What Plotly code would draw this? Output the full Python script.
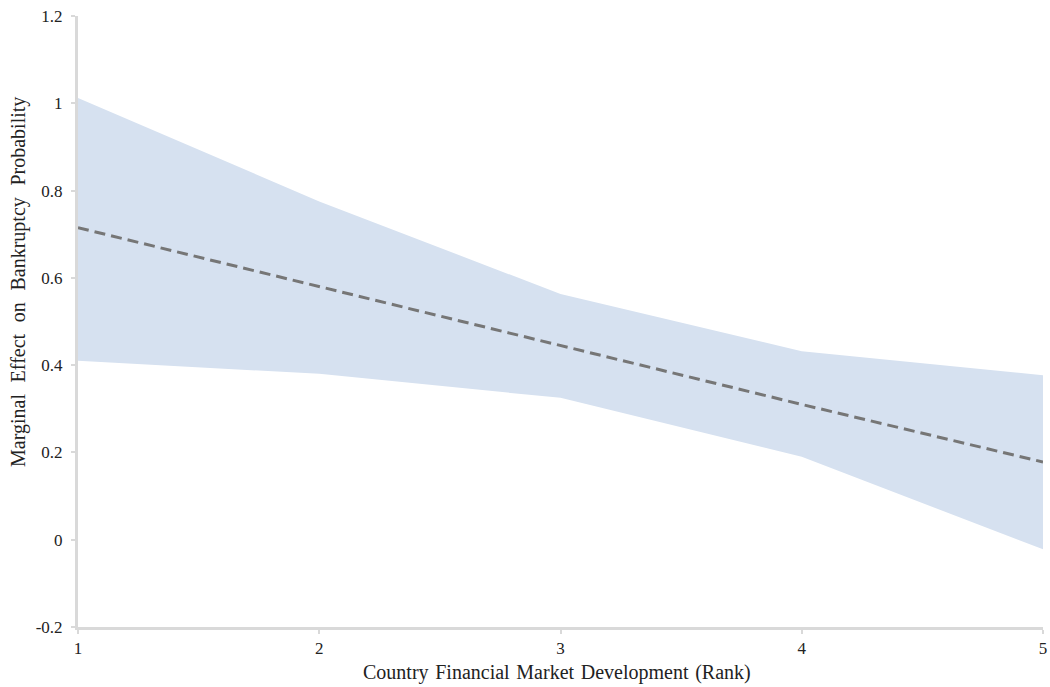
import plotly.graph_objects as go

rank = [1, 2, 3, 4, 5]
effect = [0.715, 0.58, 0.445, 0.31, 0.178]
upper = [1.012, 0.775, 0.563, 0.432, 0.377]
lower = [0.41, 0.38, 0.325, 0.19, -0.022]

y_ticks = [-0.2, 0, 0.2, 0.4, 0.6, 0.8, 1, 1.2]
y_tick_labels = ["-0.2", "0", "0.2", "0.4", "0.6", "0.8", "1", "1.2"]
x_ticks = [1, 2, 3, 4, 5]
x_tick_labels = ["1", "2", "3", "4", "5"]

x_title = "Country Financial Market Development (Rank)"
y_title = "Marginal Effect on Bankruptcy Probability"

font = "Liberation Serif, Times New Roman, serif"

fig = go.Figure()
fig.add_trace(go.Scatter(x=rank, y=lower, mode="lines", line=dict(width=0),
                         showlegend=False, hoverinfo="skip"))
fig.add_trace(go.Scatter(x=rank, y=upper, mode="lines", line=dict(width=0),
                         fill="tonexty", fillcolor="#d6e1f0",
                         showlegend=False, hoverinfo="skip"))
fig.add_trace(go.Scatter(x=rank, y=effect, mode="lines",
                         line=dict(color="#767676", width=3, dash="11px,6px"),
                         showlegend=False))

L, R, T, B = 78, 7, 16, 60
W, H = 1050, 687
fig.update_layout(
    width=W, height=H,
    margin=dict(l=L, r=R, t=T, b=B, autoexpand=False),
    paper_bgcolor="white", plot_bgcolor="white",
    font=dict(family=font, size=17, color="#222222"),
    xaxis=dict(range=[1, 5], tickvals=x_ticks, ticktext=x_tick_labels,
               showgrid=False, zeroline=False, showline=True, automargin=False,
               linecolor="#d9d9d9", linewidth=3, ticks="outside",
               tickcolor="#d9d9d9", ticklen=4, tickwidth=2,
               ticklabeloverflow="allow"),
    yaxis=dict(range=[-0.2, 1.2], tickvals=y_ticks, ticktext=y_tick_labels,
               showgrid=False, zeroline=False, showline=True, automargin=False,
               linecolor="#d9d9d9", linewidth=3, ticks="outside",
               tickcolor="#d9d9d9", ticklen=4, tickwidth=2,
               ticklabelstandoff=5),
)

pw = W - L - R
ph = H - T - B
fig.add_annotation(text=" \u200a".join(x_title.split(" ")), xref="paper", yref="paper",
                   x=(557 - L) / pw, y=-(672 - (H - B)) / ph,
                   showarrow=False, font=dict(size=20),
                   xanchor="center", yanchor="middle")
fig.add_annotation(text="\u00a0\u00a0\u200a".join(y_title.split(" ")), xref="paper", yref="paper",
                   x=-(L - 18) / pw, y=((H - B) - 282) / ph, textangle=-90,
                   showarrow=False, font=dict(size=20),
                   xanchor="center", yanchor="middle")

fig.write_html("out.html", config={"displayModeBar": False},
               post_script="document.body.style.margin='0';document.body.style.overflow='hidden';")
